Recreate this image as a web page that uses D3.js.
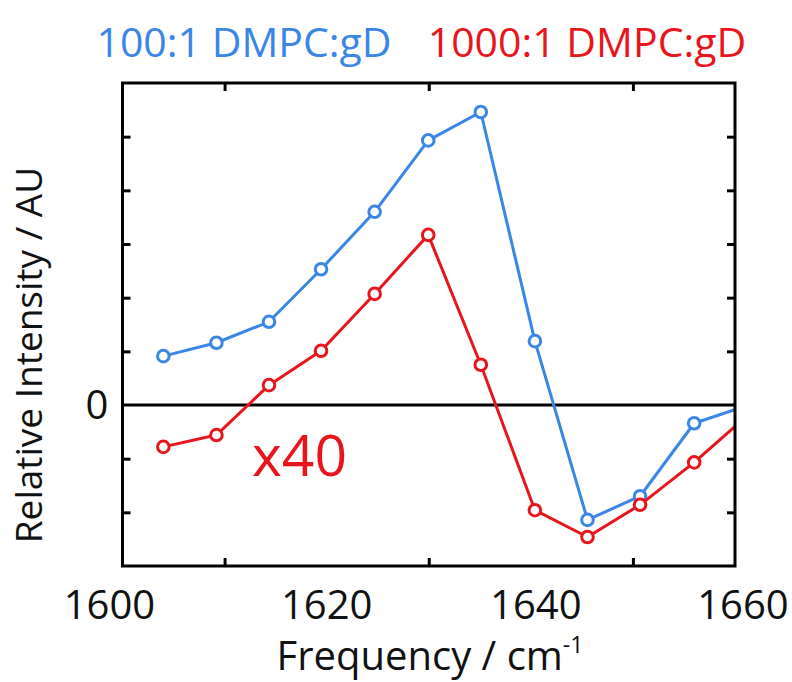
<!DOCTYPE html>
<html>
<head>
<meta charset="utf-8">
<script src="https://cdnjs.cloudflare.com/ajax/libs/d3/7.8.5/d3.min.js"></script>
<style>
  html, body { margin: 0; padding: 0; background: #fff; }
  svg { display: block; font-family: "Open Sans", "Noto Sans", sans-serif; }
</style>
</head>
<body>
<svg id="chart" width="792" height="682"></svg>
<script>
// ---- data ----
const frequency = [1604.0, 1609.2, 1614.35, 1619.45, 1624.7, 1629.95, 1635.1, 1640.4, 1645.55, 1650.7, 1656.0, 1661.2];
const series100  = [0.91, 1.16, 1.55, 2.53, 3.60, 4.93, 5.46, 1.19, -2.14, -1.70, -0.34, -0.01];
const series1000 = [-0.78, -0.56, 0.37, 1.01, 2.07, 3.17, 0.75, -1.96, -2.46, -1.86, -1.07, -0.20];
const seriesNames = ["100:1 DMPC:gD", "1000:1 DMPC:gD"];
const xTickLabels = [1600, 1620, 1640, 1660];
const xMinorTicks = [1610, 1630, 1650];
const yTicks = [-2, -1, 1, 2, 3, 4, 5];

const BLUE = "#3a86e6", RED = "#e8161c";

const svg = d3.select("#chart");
const m = { left: 122.5, right: 735, top: 83, bottom: 566 };
const x = d3.scaleLinear().domain([1600, 1660]).range([m.left, m.right]);
const y = d3.scaleLinear().domain([-3, 6]).range([m.bottom, m.top]);

svg.append("defs").append("clipPath").attr("id", "clip")
  .append("rect").attr("x", m.left).attr("y", m.top)
  .attr("width", m.right - m.left).attr("height", m.bottom - m.top);

// ticks (inward, no labels)
const tickLen = 8;
const axB = d3.axisBottom(x).tickValues(xMinorTicks).tickSize(-tickLen).tickFormat("");
const axT = d3.axisTop(x).tickValues(xMinorTicks).tickSize(-tickLen).tickFormat("");
const axL = d3.axisLeft(y).tickValues(yTicks).tickSize(-tickLen).tickFormat("");
const axR = d3.axisRight(y).tickValues(yTicks).tickSize(-tickLen).tickFormat("");
[[axB, `translate(0,${m.bottom})`], [axT, `translate(0,${m.top})`],
 [axL, `translate(${m.left},0)`], [axR, `translate(${m.right},0)`]].forEach(([ax, tr]) => {
  const g = svg.append("g").attr("transform", tr).call(ax);
  g.select(".domain").remove();
  g.selectAll(".tick line").attr("stroke", "#000").attr("stroke-width", 3);
});

// zero line
svg.append("line").attr("x1", m.left).attr("x2", m.right)
  .attr("y1", y(0)).attr("y2", y(0)).attr("stroke", "#000").attr("stroke-width", 3);

// series
const plot = svg.append("g").attr("clip-path", "url(#clip)");
const line = d3.line().x(d => x(d[0])).y(d => y(d[1]));
[[series100, BLUE], [series1000, RED]].forEach(([vals, col]) => {
  const pts = frequency.map((f, i) => [f, vals[i]]);
  plot.append("path").datum(pts).attr("d", line)
    .attr("fill", "none").attr("stroke", col).attr("stroke-width", 3)
    .attr("stroke-linejoin", "round");
  plot.selectAll(null).data(pts).enter().append("circle")
    .attr("cx", d => x(d[0])).attr("cy", d => y(d[1])).attr("r", 5.8)
    .attr("fill", "#fff").attr("stroke", col).attr("stroke-width", 3);
});

// frame
svg.append("rect").attr("x", m.left).attr("y", m.top)
  .attr("width", m.right - m.left).attr("height", m.bottom - m.top)
  .attr("fill", "none").attr("stroke", "#000").attr("stroke-width", 3);

// x tick labels
const labelShift = { 1600: -13, 1620: 0, 1640: 5, 1660: 8 };
svg.selectAll(".xl").data(xTickLabels).enter().append("text")
  .attr("x", d => x(d) + labelShift[d]).attr("y", 619)
  .attr("text-anchor", "middle").attr("font-size", 40).attr("fill", "#111")
  .text(d => d);

// y zero label
svg.append("text").attr("x", 97).attr("y", y(0) + 14)
  .attr("text-anchor", "middle").attr("font-size", 40).attr("fill", "#111").text("0");

// axis titles
const xt = svg.append("text").attr("x", 430).attr("y", 670)
  .attr("text-anchor", "middle").attr("font-size", 40).attr("fill", "#111");
xt.append("tspan").text("Frequency / cm");
xt.append("tspan").attr("font-size", 23).attr("dy", -17).text("-1");

svg.append("text").attr("transform", "translate(42,355) rotate(-90)")
  .attr("text-anchor", "middle").attr("font-size", 37).attr("fill", "#111")
  .text("Relative Intensity / AU");

// legend titles
svg.append("text").attr("x", 244).attr("y", 57).attr("text-anchor", "middle")
  .attr("font-size", 41).attr("fill", BLUE).text(seriesNames[0]);
svg.append("text").attr("x", 587).attr("y", 57).attr("text-anchor", "middle")
  .attr("font-size", 41).attr("fill", RED).text(seriesNames[1]);

// x40 annotation
svg.append("text").attr("x", 252).attr("y", 476)
  .attr("font-size", 57).attr("fill", RED).text("x40");
</script>
</body>
</html>
